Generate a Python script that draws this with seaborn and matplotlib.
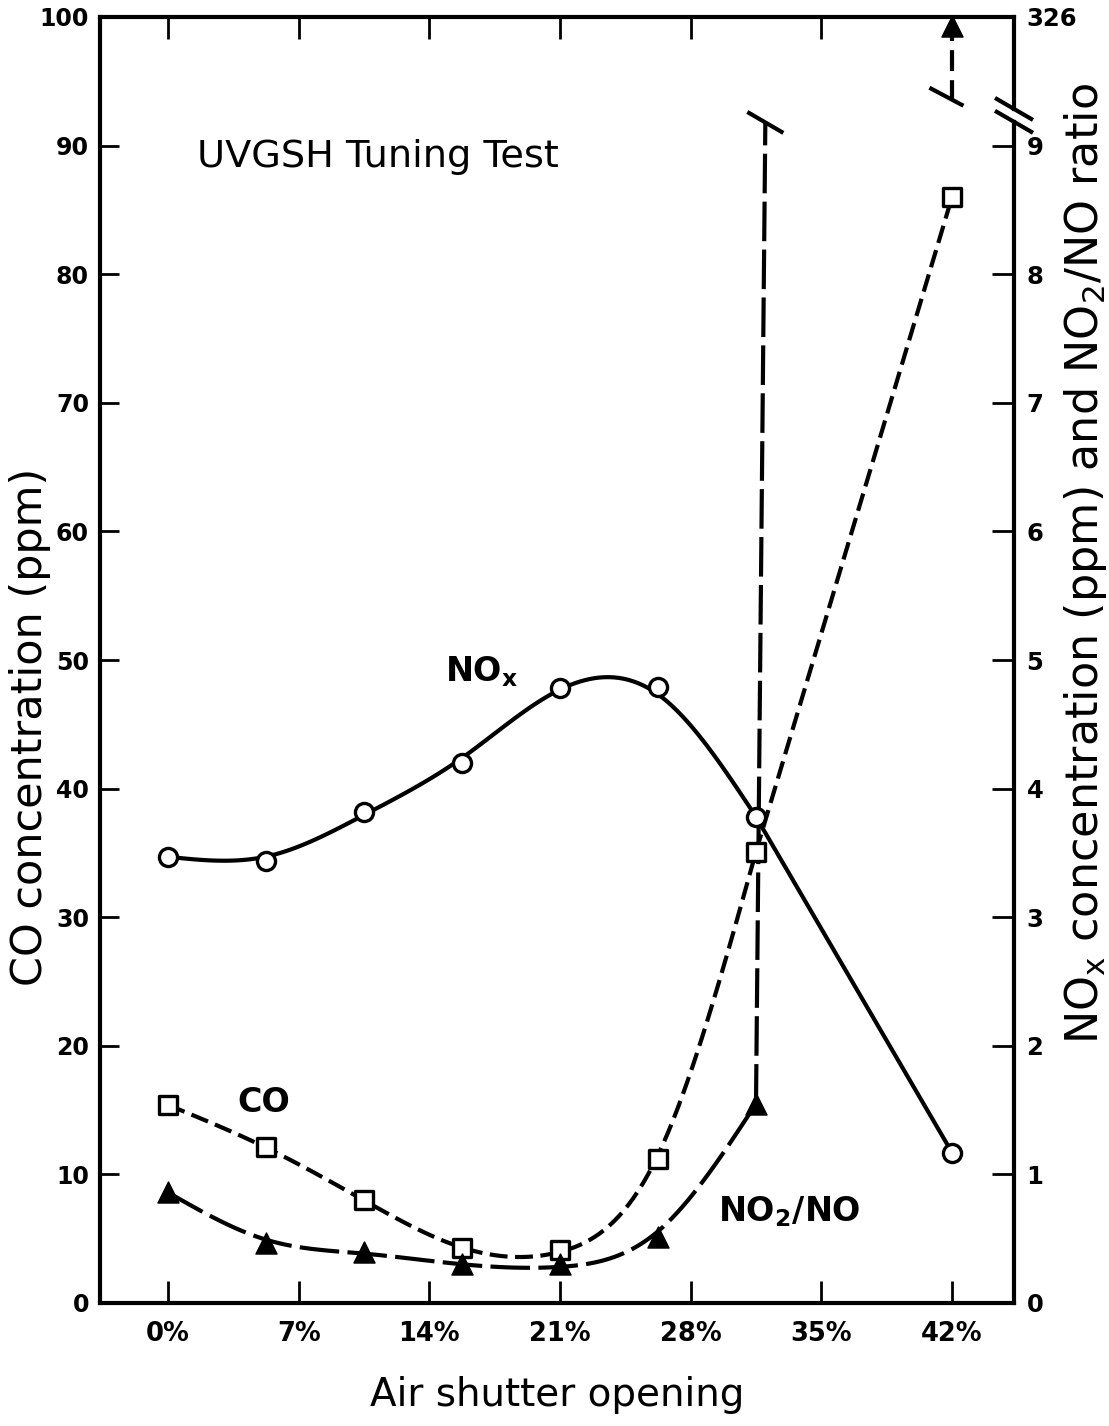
import numpy as np
import pandas as pd
import matplotlib
matplotlib.use("Agg")
import matplotlib.pyplot as plt
import seaborn as sns
from matplotlib.transforms import blended_transform_factory

# ---------------- data ----------------
shutter = [0, 5.25, 10.5, 15.75, 21, 26.25, 31.5, 42]          # air shutter opening, %
co_ppm = [15.4, 12.1, 8.0, 4.3, 4.1, 11.2, 35.1, 86.0]          # CO concentration (left axis)
nox_ppm = [3.47, 3.44, 3.82, 4.20, 4.78, 4.79, 3.78, 1.17]      # NOx (right axis)
no2_no_ratio = [0.86, 0.47, 0.40, 0.30, 0.30, 0.51, 1.55, 326]  # NO2/NO ratio (right axis)

x_ticks = [0, 7, 14, 21, 28, 35, 42]
x_tick_labels = ["0%", "7%", "14%", "21%", "28%", "35%", "42%"]
left_ticks = list(range(0, 101, 10))
right_tick_labels = ["0", "1", "2", "3", "4", "5", "6", "7", "8", "9", "326"]

# right axis 0..9 maps onto left 0..90 ; values above the break sit at the top
RIGHT_SCALE = 10.0
BREAK_LIMIT = 9.0
TOP_POS = 99.3


def right_pos(v):
    return [val * RIGHT_SCALE if val <= BREAK_LIMIT else TOP_POS for val in v]


def smooth_curve(xk, yk, lam, end_w=50.0, step=0.2625):
    """Penalised (Whittaker) smoothing curve through the measured points, as drawn by hand."""
    xk = np.asarray(xk, float)
    yk = np.asarray(yk, float)
    n = int(round((xk[-1] - xk[0]) / step)) + 1
    grid = xk[0] + step * np.arange(n)
    idx = np.round((xk - xk[0]) / step).astype(int)
    w = np.zeros(n)
    z = np.zeros(n)
    w[idx] = 1.0
    w[idx[0]] = end_w
    w[idx[-1]] = end_w
    z[idx] = yk
    D = np.diff(np.eye(n), 2, axis=0)
    ys = np.linalg.solve(np.diag(w) + lam * D.T @ D, w * z)
    return grid, ys


# ---------------- style ----------------
sns.set_theme(style="ticks")
plt.rcParams["font.family"] = ["DejaVu Sans"]
plt.rcParams["mathtext.fontset"] = "dejavusans"
plt.rcParams["text.color"] = "black"
plt.rcParams["axes.labelcolor"] = "black"
plt.rcParams["xtick.color"] = "black"
plt.rcParams["ytick.color"] = "black"

fig = plt.figure(figsize=(11.09, 14.26), dpi=100)
ax = fig.add_axes([100 / 1109, 123 / 1426, 914 / 1109, 1286 / 1426])
ax.set_xlim(-3.64, 45.32)
ax.set_ylim(0, 100)

LW = 3.0
CO_DASH = (0, (4.3, 1.8))
RATIO_DASH = (0, (9.5, 2.0))

nox_pos = right_pos(nox_ppm)
ratio_pos = right_pos(no2_no_ratio)

# NOx : smooth solid curve then straight segment
xs, ys = smooth_curve(shutter[:7], nox_pos[:7], lam=250)
sns.lineplot(x=xs, y=ys, ax=ax, color="black", lw=LW, sort=False, estimator=None)
sns.lineplot(x=shutter[6:], y=nox_pos[6:], ax=ax, color="black", lw=LW, sort=False, estimator=None)

# CO : smooth short-dashed curve then straight
xs, ys = smooth_curve(shutter[:7], co_ppm[:7], lam=60)
sns.lineplot(x=xs, y=ys, ax=ax, color="black", lw=LW, linestyle=CO_DASH, sort=False, estimator=None)
sns.lineplot(x=shutter[6:], y=co_ppm[6:], ax=ax, color="black", lw=LW, linestyle=CO_DASH,
             sort=False, estimator=None)

# NO2/NO : smooth long-dashed curve
xs, ys = smooth_curve(shutter[:7], ratio_pos[:7], lam=200)
sns.lineplot(x=xs, y=ys, ax=ax, color="black", lw=LW, linestyle=RATIO_DASH, sort=False, estimator=None)

# broken jump from 31.5% toward the off-scale value
BREAK_LOW = 91.8
BREAK_HIGH = 93.5
ax.plot([shutter[6], shutter[6] + 0.5], [ratio_pos[6], BREAK_LOW], color="black", lw=LW,
        linestyle=RATIO_DASH)
ax.plot([shutter[7], shutter[7]], [BREAK_HIGH, ratio_pos[7]], color="black", lw=LW,
        linestyle=(0, (5, 2.2)), clip_on=False)

# break slashes (pixel sized -> data units)
PX_X = 1 / 18.667
PX_Y = 1 / 12.86


def slash(xc, yc, hx=18, hy=10.5, transform=None):
    kw = dict(color="black", lw=LW, solid_capstyle="butt", clip_on=False)
    if transform is None:
        ax.plot([xc - hx * PX_X, xc + hx * PX_X], [yc + hy * PX_Y, yc - hy * PX_Y], **kw)
    else:
        ax.plot([xc - hx / 914, xc + hx / 914], [yc + hy * PX_Y, yc - hy * PX_Y],
                transform=transform, **kw)


slash(shutter[6] + 0.5, BREAK_LOW)
slash(shutter[7] - 0.3, BREAK_HIGH + 0.3, hx=17, hy=9)

# markers
sns.scatterplot(x=shutter, y=nox_pos, ax=ax, marker="o", s=170, color="white",
                edgecolor="black", linewidth=2.4, zorder=6, clip_on=False)
sns.scatterplot(x=shutter, y=co_ppm, ax=ax, marker="s", s=150, color="white",
                edgecolor="black", linewidth=2.4, zorder=6, clip_on=False)
sns.scatterplot(x=shutter, y=ratio_pos, ax=ax, marker="^", s=230, color="black",
                edgecolor="black", linewidth=1, zorder=6, clip_on=False)

# ---------------- axes ----------------
for side in ["left", "top", "bottom"]:
    ax.spines[side].set_linewidth(3)
    ax.spines[side].set_color("black")
ax.spines["right"].set_visible(False)

trans_r = blended_transform_factory(ax.transAxes, ax.transData)
SP_UP = 92.85
SP_LO = 91.85
ax.plot([1, 1], [0, SP_LO], transform=trans_r, color="black", lw=3, clip_on=False,
        solid_capstyle="projecting")
ax.plot([1, 1], [SP_UP, 100], transform=trans_r, color="black", lw=3, clip_on=False,
        solid_capstyle="projecting")
slash(1.0, SP_UP, hx=19, hy=11, transform=trans_r)
slash(1.0, SP_LO, hx=19, hy=11, transform=trans_r)

ax.set_xticks(x_ticks)
ax.set_xticklabels(x_tick_labels, fontsize=18.5, fontweight="bold")
ax.set_yticks(left_ticks)
ax.set_yticklabels([str(t) for t in left_ticks], fontsize=17, fontweight="bold")
ax.tick_params(axis="x", direction="in", length=16, width=2, top=True, bottom=True,
               pad=13, colors="black")
ax.tick_params(axis="y", direction="in", length=14, width=2, left=True, right=False,
               pad=8, colors="black")
ax.set_xlabel("")
ax.set_ylabel("")

ax2 = ax.twinx()
ax2.set_ylim(0, 100)
ax2.set_yticks(left_ticks)
ax2.set_yticklabels(right_tick_labels, fontsize=17.5, fontweight="bold")
ax2.tick_params(axis="y", direction="in", length=16, width=2, pad=9, colors="black")
for s in ax2.spines.values():
    s.set_visible(False)

# ---------------- text ----------------
ax.text(-0.0766, 0.448, "CO concentration (ppm)", transform=ax.transAxes, rotation=90,
        ha="center", va="center", fontsize=31)
ax.text(1.078, 0.575, r"NO$_\mathregular{x}$ concentration (ppm) and NO$_\mathregular{2}$/NO ratio",
        transform=ax.transAxes, rotation=90, ha="center", va="center", fontsize=32)
fig.text(557 / 1109, 1 - 1395 / 1426, "Air shutter opening", ha="center", va="center", fontsize=28)
ax.text(0.106, 0.891, "UVGSH Tuning Test", transform=ax.transAxes, ha="left", va="center",
        fontsize=27.5)
ax.text(0.377, 0.491, r"NO$_\mathbf{x}$", transform=ax.transAxes, ha="left", va="center",
        fontsize=24, fontweight="bold")
ax.text(0.150, 0.156, "CO", transform=ax.transAxes, ha="left", va="center",
        fontsize=24, fontweight="bold")
ax.text(0.676, 0.071, r"NO$_\mathbf{2}$/NO", transform=ax.transAxes, ha="left", va="center",
        fontsize=24, fontweight="bold")

fig.savefig("out.png", dpi=100, facecolor="white")
